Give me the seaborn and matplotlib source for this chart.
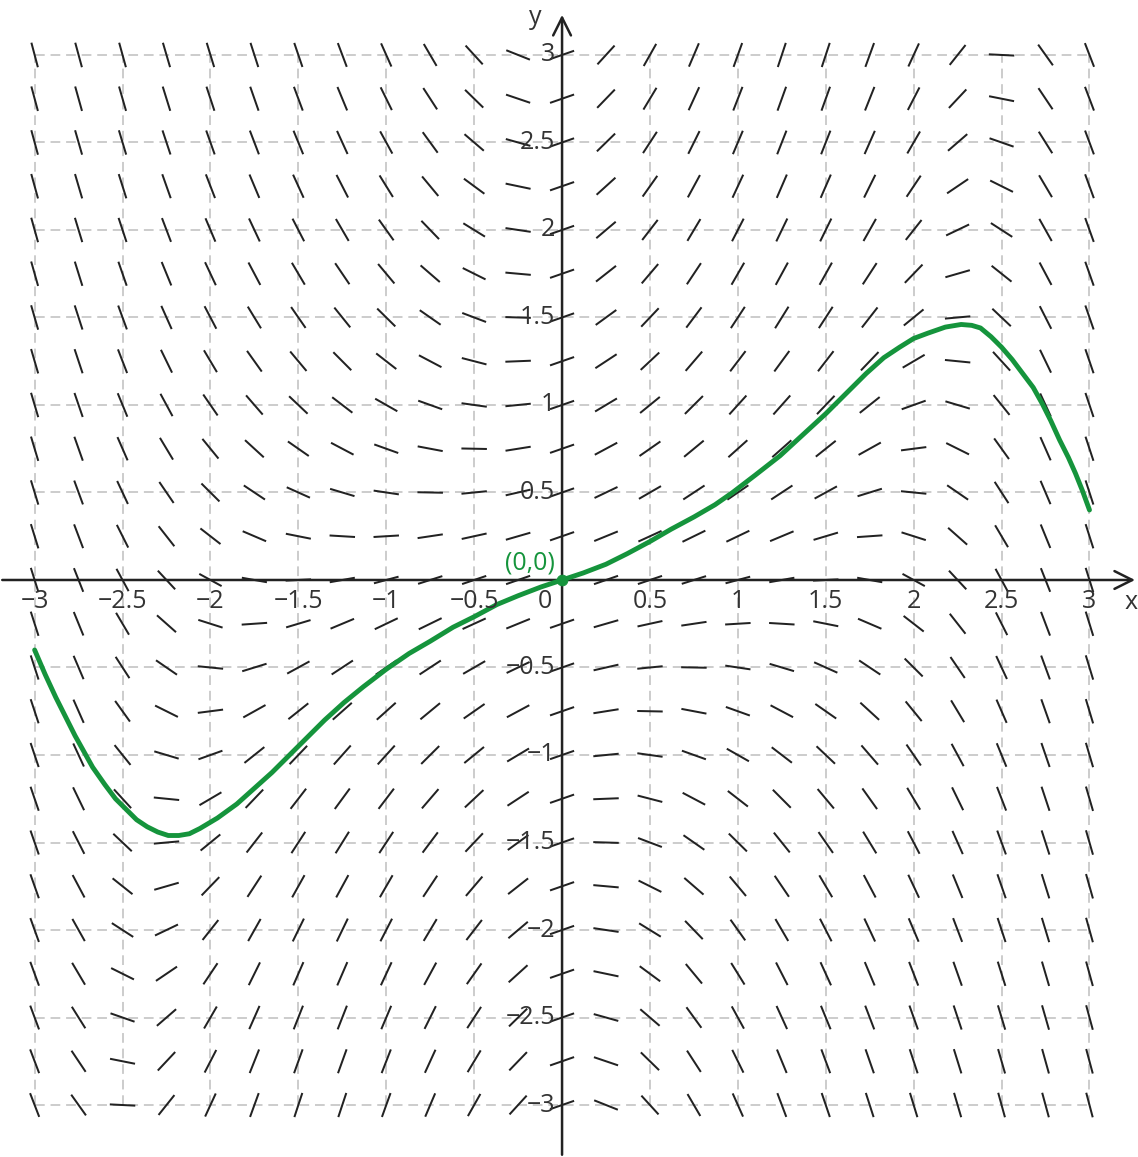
import numpy as np
import seaborn as sns
import matplotlib.pyplot as plt

# slope field sample points
x_grid = [-3, -2.75, -2.5, -2.25, -2, -1.75, -1.5, -1.25, -1, -0.75, -0.5, -0.25, 0,
          0.25, 0.5, 0.75, 1, 1.25, 1.5, 1.75, 2, 2.25, 2.5, 2.75, 3]
y_grid = [3, 2.75, 2.5, 2.25, 2, 1.75, 1.5, 1.25, 1, 0.75, 0.5, 0.25, 0,
          -0.25, -0.5, -0.75, -1, -1.25, -1.5, -1.75, -2, -2.25, -2.5, -2.75, -3]

# dy/dx read at each grid point, one row per y value (top to bottom)
slopes = [
    [-3.8, -3.69, -3.65, -3.42, -3.28, -3.12, -2.95, -2.67, -2.25, -1.72, -1.1, -0.4, 0.35, 1.1, 1.78, 2.36, 2.79, 3.03, 3.05, 2.76, 2.18, 1.26, -0.05, -1.41, -2.6],
    [-3.75, -3.6, -3.5, -3.23, -3.05, -2.88, -2.7, -2.43, -2.04, -1.55, -0.98, -0.34, 0.35, 1.04, 1.67, 2.19, 2.58, 2.79, 2.8, 2.52, 1.95, 1.07, -0.2, -1.5, -2.65],
    [-3.7, -3.5, -3.35, -3.03, -2.83, -2.63, -2.45, -2.2, -1.83, -1.38, -0.86, -0.28, 0.35, 0.98, 1.54, 2.02, 2.37, 2.56, 2.55, 2.27, 1.73, 0.87, -0.35, -1.6, -2.7],
    [-3.65, -3.41, -3.2, -2.84, -2.6, -2.39, -2.2, -1.96, -1.62, -1.21, -0.74, -0.21, 0.35, 0.91, 1.42, 1.85, 2.16, 2.32, 2.3, 2.03, 1.5, 0.68, -0.5, -1.7, -2.75],
    [-3.6, -3.31, -3.05, -2.64, -2.37, -2.14, -1.95, -1.72, -1.41, -1.04, -0.62, -0.15, 0.35, 0.85, 1.3, 1.68, 1.95, 2.08, 2.05, 1.78, 1.27, 0.48, -0.65, -1.79, -2.8],
    [-3.55, -3.22, -2.9, -2.45, -2.14, -1.9, -1.7, -1.48, -1.2, -0.87, -0.5, -0.09, 0.35, 0.79, 1.18, 1.51, 1.74, 1.84, 1.8, 1.54, 1.04, 0.29, -0.8, -1.89, -2.85],
    [-3.5, -3.12, -2.75, -2.25, -1.92, -1.65, -1.45, -1.25, -0.99, -0.7, -0.38, -0.03, 0.35, 0.73, 1.06, 1.34, 1.53, 1.61, 1.55, 1.29, 0.82, 0.09, -0.95, -1.98, -2.9],
    [-3.45, -3.03, -2.6, -2.06, -1.69, -1.41, -1.2, -1.01, -0.78, -0.53, -0.26, 0.04, 0.35, 0.66, 0.94, 1.17, 1.32, 1.37, 1.3, 1.05, 0.59, -0.1, -1.1, -2.08, -2.95],
    [-3.4, -2.93, -2.45, -1.86, -1.46, -1.16, -0.95, -0.77, -0.57, -0.36, -0.14, 0.1, 0.35, 0.6, 0.82, 1.0, 1.11, 1.13, 1.05, 0.8, 0.36, -0.3, -1.25, -2.17, -3.0],
    [-3.35, -2.84, -2.3, -1.67, -1.23, -0.92, -0.7, -0.53, -0.36, -0.19, -0.02, 0.16, 0.35, 0.54, 0.7, 0.83, 0.9, 0.89, 0.8, 0.56, 0.13, -0.5, -1.4, -2.27, -3.05],
    [-3.3, -2.74, -2.15, -1.47, -1.0, -0.67, -0.45, -0.3, -0.15, -0.02, 0.1, 0.23, 0.35, 0.48, 0.58, 0.66, 0.69, 0.66, 0.55, 0.31, -0.1, -0.69, -1.55, -2.36, -3.1],
    [-3.25, -2.65, -2.0, -1.28, -0.78, -0.43, -0.2, -0.06, 0.06, 0.15, 0.22, 0.29, 0.35, 0.41, 0.46, 0.49, 0.48, 0.42, 0.3, 0.07, -0.32, -0.89, -1.7, -2.46, -3.15],
    [-3.2, -2.55, -1.85, -1.08, -0.55, -0.18, 0.05, 0.18, 0.27, 0.32, 0.34, 0.35, 0.35, 0.35, 0.34, 0.32, 0.27, 0.18, 0.05, -0.18, -0.55, -1.08, -1.85, -2.55, -3.2],
    [-3.15, -2.46, -1.7, -0.89, -0.32, 0.07, 0.3, 0.42, 0.48, 0.49, 0.46, 0.41, 0.35, 0.29, 0.22, 0.15, 0.06, -0.06, -0.2, -0.43, -0.78, -1.28, -2.0, -2.65, -3.25],
    [-3.1, -2.36, -1.55, -0.69, -0.1, 0.31, 0.55, 0.66, 0.69, 0.66, 0.58, 0.48, 0.35, 0.23, 0.1, -0.02, -0.15, -0.3, -0.45, -0.67, -1.0, -1.47, -2.15, -2.74, -3.3],
    [-3.05, -2.27, -1.4, -0.5, 0.13, 0.56, 0.8, 0.89, 0.9, 0.83, 0.7, 0.54, 0.35, 0.16, -0.02, -0.19, -0.36, -0.53, -0.7, -0.92, -1.23, -1.67, -2.3, -2.84, -3.35],
    [-3.0, -2.17, -1.25, -0.3, 0.36, 0.8, 1.05, 1.13, 1.11, 1.0, 0.82, 0.6, 0.35, 0.1, -0.14, -0.36, -0.57, -0.77, -0.95, -1.16, -1.46, -1.86, -2.45, -2.93, -3.4],
    [-2.95, -2.08, -1.1, -0.1, 0.59, 1.05, 1.3, 1.37, 1.32, 1.17, 0.94, 0.66, 0.35, 0.04, -0.26, -0.53, -0.78, -1.01, -1.2, -1.41, -1.69, -2.06, -2.6, -3.03, -3.45],
    [-2.9, -1.98, -0.95, 0.09, 0.82, 1.29, 1.55, 1.61, 1.53, 1.34, 1.06, 0.73, 0.35, -0.03, -0.38, -0.7, -0.99, -1.25, -1.45, -1.65, -1.92, -2.25, -2.75, -3.12, -3.5],
    [-2.85, -1.89, -0.8, 0.29, 1.04, 1.54, 1.8, 1.84, 1.74, 1.51, 1.18, 0.79, 0.35, -0.09, -0.5, -0.87, -1.2, -1.48, -1.7, -1.9, -2.14, -2.45, -2.9, -3.22, -3.55],
    [-2.8, -1.79, -0.65, 0.48, 1.27, 1.78, 2.05, 2.08, 1.95, 1.68, 1.3, 0.85, 0.35, -0.15, -0.62, -1.04, -1.41, -1.72, -1.95, -2.14, -2.37, -2.64, -3.05, -3.31, -3.6],
    [-2.75, -1.7, -0.5, 0.68, 1.5, 2.03, 2.3, 2.32, 2.16, 1.85, 1.42, 0.91, 0.35, -0.21, -0.74, -1.21, -1.62, -1.96, -2.2, -2.39, -2.6, -2.84, -3.2, -3.41, -3.65],
    [-2.7, -1.6, -0.35, 0.87, 1.73, 2.27, 2.55, 2.56, 2.37, 2.02, 1.54, 0.98, 0.35, -0.28, -0.86, -1.38, -1.83, -2.2, -2.45, -2.63, -2.83, -3.03, -3.35, -3.5, -3.7],
    [-2.65, -1.5, -0.2, 1.07, 1.95, 2.52, 2.8, 2.79, 2.58, 2.19, 1.67, 1.04, 0.35, -0.34, -0.98, -1.55, -2.04, -2.43, -2.7, -2.88, -3.05, -3.23, -3.5, -3.6, -3.75],
    [-2.6, -1.41, -0.05, 1.26, 2.18, 2.76, 3.05, 3.03, 2.79, 2.36, 1.78, 1.1, 0.35, -0.4, -1.1, -1.72, -2.25, -2.67, -2.95, -3.12, -3.28, -3.42, -3.65, -3.69, -3.8],
]

# solution curve through (0,0)
curve_x = [-3.0, -2.94, -2.88, -2.82, -2.77, -2.72, -2.67, -2.60, -2.54, -2.48, -2.42, -2.36,
           -2.30, -2.24, -2.18, -2.12, -2.06, -1.96, -1.85, -1.75, -1.65, -1.55, -1.45, -1.35,
           -1.24, -1.13, -1.0, -0.87, -0.75, -0.62, -0.5, -0.37, -0.25, -0.12, 0.0,
           0.12, 0.25, 0.37, 0.5, 0.62, 0.75, 0.87, 0.97, 1.1, 1.24, 1.37, 1.5, 1.62, 1.73,
           1.83, 1.92, 2.0, 2.08, 2.18, 2.27, 2.33, 2.38, 2.44, 2.5, 2.56, 2.62, 2.68, 2.73,
           2.78, 2.83, 2.88, 2.92, 2.96, 3.0]
curve_y = [-0.40, -0.54, -0.67, -0.79, -0.89, -0.98, -1.07, -1.17, -1.25, -1.31, -1.37, -1.41,
           -1.44, -1.46, -1.46, -1.45, -1.42, -1.36, -1.28, -1.19, -1.10, -1.00, -0.90, -0.80,
           -0.70, -0.61, -0.51, -0.42, -0.35, -0.27, -0.21, -0.14, -0.09, -0.04, 0.0,
           0.04, 0.09, 0.15, 0.22, 0.29, 0.36, 0.43, 0.50, 0.60, 0.71, 0.83, 0.95, 1.07, 1.18,
           1.27, 1.33, 1.38, 1.41, 1.445, 1.46, 1.455, 1.44, 1.39, 1.33, 1.26, 1.18, 1.10, 1.01,
           0.91, 0.80, 0.70, 0.61, 0.51, 0.40]

grid_vals = [-3, -2.5, -2, -1.5, -1, -0.5, 0, 0.5, 1, 1.5, 2, 2.5, 3]
x_ticks = [-3, -2.5, -2, -1.5, -1, -0.5, 0.5, 1, 1.5, 2, 2.5, 3]
x_tick_labels = ["−3", "−2.5", "−2", "−1.5", "−1", "−0.5", "0.5", "1", "1.5", "2", "2.5", "3"]
y_ticks = [3, 2.5, 2, 1.5, 1, 0.5, -0.5, -1, -1.5, -2, -2.5, -3]
y_tick_labels = ["3", "2.5", "2", "1.5", "1", "0.5", "−0.5", "−1", "−1.5", "−2", "−2.5", "−3"]

green = "#15943c"
ink = "#222222"
seg_len = 0.145

sns.set_theme(style="white")
plt.rcParams["font.family"] = ["Open Sans", "DejaVu Sans"]

fig = plt.figure(figsize=(11.38, 11.57), dpi=100)
ax = fig.add_axes([0, 0, 1, 1])
ax.set_xlim(-3.197, 3.276)
ax.set_ylim(-3.297, 3.314)
ax.axis("off")

# dashed grid
ax.hlines(grid_vals, -3, 3, colors="#cccccc", linestyles=(0, (5, 3)), linewidth=1.4, zorder=0)
ax.vlines(grid_vals, -3, 3, colors="#cccccc", linestyles=(0, (5, 3)), linewidth=1.4, zorder=0)

# slope field
X, Y = np.meshgrid(x_grid, y_grid)
S = np.array(slopes)
norm = np.sqrt(1 + S ** 2)
ax.quiver(X, Y, 1 / norm, S / norm, pivot="mid", angles="xy", scale_units="xy",
          scale=1 / seg_len, headwidth=0, headlength=0, headaxislength=0,
          units="dots", width=2.0, color=ink, zorder=2)

# axes with arrow heads
ax.annotate("", xy=(3.275, 0), xytext=(-3.2, 0),
            arrowprops=dict(arrowstyle="->", color=ink, lw=1.8, mutation_scale=32), zorder=3)
ax.annotate("", xy=(0, 3.245), xytext=(0, -3.3),
            arrowprops=dict(arrowstyle="->", color=ink, lw=1.8, mutation_scale=32), zorder=3)
ax.text(3.235, -0.13, "x", fontsize=18, color="#333333", ha="center", va="center")
ax.text(-0.15, 3.215, "y", fontsize=18, color="#333333", ha="center", va="center")

# tick labels
for v, lab in zip(x_ticks, x_tick_labels):
    ax.text(v, -0.125, lab, fontsize=18, color="#333333", ha="center", va="center", zorder=5)
ax.text(-0.1, -0.125, "0", fontsize=18, color="#333333", ha="center", va="center", zorder=5)
for v, lab in zip(y_ticks, y_tick_labels):
    ax.text(-0.04, v, lab, fontsize=18, color="#333333", ha="right", va="center", zorder=5)

# solution curve
sns.lineplot(x=curve_x, y=curve_y, sort=False, color=green, linewidth=3.5, ax=ax, zorder=4)
sns.scatterplot(x=[0], y=[0], color=green, s=60, edgecolor=green, ax=ax, zorder=6)
ax.text(-0.18, 0.095, "(0,0)", fontsize=18, color=green, ha="center", va="center", zorder=6)

fig.savefig("out.png", dpi=100)
